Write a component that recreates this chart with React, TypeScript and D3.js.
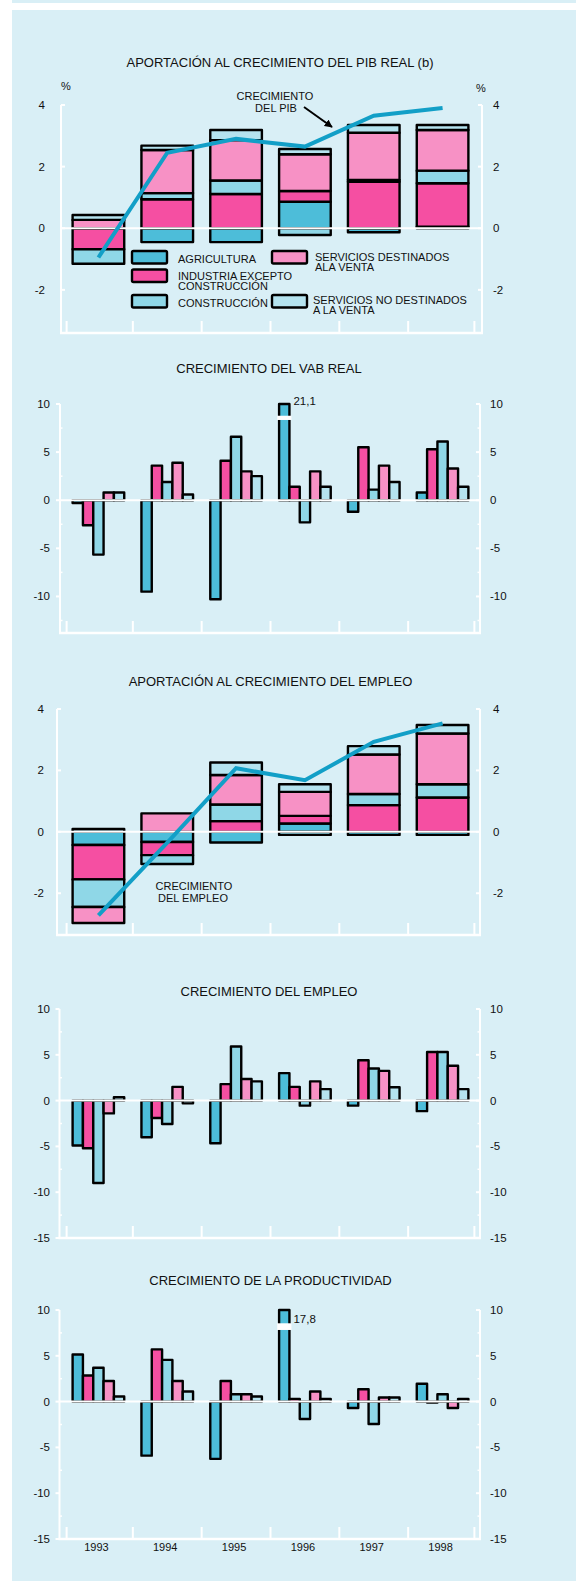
import React from 'react';
import * as d3 from 'd3';

const years = ['1993', '1994', '1995', '1996', '1997', '1998'];
const sectorKeys = ['agri', 'ind', 'cons', 'sd', 'snd'];
const sectorColors = ['#4dbdd9', '#f54fa2', '#8fd7e7', '#f791c5', '#b5e3ef'];
const legendLines = [
  ['AGRICULTURA'],
  ['INDUSTRIA EXCEPTO', 'CONSTRUCCIÓN'],
  ['CONSTRUCCIÓN'],
  ['SERVICIOS DESTINADOS', 'ALA VENTA'],
  ['SERVICIOS NO DESTINADOS', 'A LA VENTA'],
];

// aportación al crecimiento del PIB real (puntos)
const pibAgri = [0, -0.45, -0.45, 0.86, -0.13, 0.05];
const pibInd = [-0.68, 0.94, 1.11, 0.35, 1.51, 1.41];
const pibCons = [-0.47, 0.2, 0.44, -0.22, 0.06, 0.41];
const pibSd = [0.27, 1.4, 1.31, 1.19, 1.53, 1.32];
const pibSnd = [0.16, 0.14, 0.33, 0.17, 0.25, 0.16];
const pibGrowth = [-0.95, 2.45, 2.9, 2.65, 3.65, 3.9];

// crecimiento del VAB real (%)
const vabAgri = [-0.3, -9.5, -10.3, 21.1, -1.2, 0.8];
const vabInd = [-2.6, 3.6, 4.1, 1.4, 5.5, 5.3];
const vabCons = [-5.65, 1.9, 6.6, -2.3, 1.1, 6.1];
const vabSd = [0.8, 3.9, 3.0, 3.0, 3.6, 3.3];
const vabSnd = [0.8, 0.6, 2.5, 1.4, 1.9, 1.4];

// aportación al crecimiento del empleo (puntos)
const empAgri = [-0.43, -0.33, -0.35, 0.27, -0.1, -0.1];
const empInd = [-1.12, -0.43, 0.35, 0.25, 0.87, 1.12];
const empCons = [-0.9, -0.29, 0.54, -0.1, 0.36, 0.43];
const empSd = [-0.52, 0.6, 0.96, 0.78, 1.29, 1.65];
const empSnd = [0.09, 0, 0.41, 0.25, 0.27, 0.28];
const empGrowth = [-2.72, -0.35, 2.07, 1.68, 2.93, 3.53];

// crecimiento del empleo (%)
const ocuAgri = [-4.9, -4.0, -4.65, 3.0, -0.55, -1.15];
const ocuInd = [-5.2, -1.9, 1.8, 1.5, 4.4, 5.3];
const ocuCons = [-9.0, -2.55, 5.9, -0.55, 3.5, 5.3];
const ocuSd = [-1.4, 1.5, 2.35, 2.1, 3.25, 3.8];
const ocuSnd = [0.36, -0.3, 2.1, 1.25, 1.45, 1.25];

// crecimiento de la productividad (%)
const proAgri = [5.15, -5.9, -6.25, 17.8, -0.7, 1.95];
const proInd = [2.85, 5.7, 2.25, 0.3, 1.35, -0.1];
const proCons = [3.7, 4.55, 0.8, -1.9, -2.45, 0.8];
const proSd = [2.25, 2.25, 0.8, 1.1, 0.45, -0.7];
const proSnd = [0.55, 1.1, 0.55, 0.3, 0.45, 0.3];

const ticksSmall = [-2, 0, 2, 4];
const ticksLarge = [-10, -5, 0, 5, 10];
const ticksLargeEmp = [-15, -10, -5, 0, 5, 10];

const FONT = '"Liberation Sans", Arial, Helvetica, sans-serif';
const BG = '#d9eff6';
const LINE = '#129fc7';
const TXT = '#111';
const SW = 2.4;

const makeRows = (cols) =>
  years.map((year, i) => {
    const r = { year };
    sectorKeys.forEach((k, j) => (r[k] = cols[j][i]));
    return r;
  });

const x = d3.scaleBand().domain(years).range([64, 477]).paddingInner(0.25).paddingOuter(0.125);
const xs = d3.scaleBand().domain(sectorKeys).range([0, x.bandwidth()]);

function Frame({ p, children }) {
  const y = p.y;
  const edge = 6;
  const gap = x.step() - x.bandwidth();
  const bounds = [x(years[0]) - edge]
    .concat(years.slice(1).map((yr) => x(yr) - gap / 2))
    .concat([x(years[years.length - 1]) + x.bandwidth() + edge]);
  return (
    <g>
      <text x={p.titleX} y={p.titleY} textAnchor="middle" fontSize={13} fill={TXT}>
        {p.title}
      </text>
      {/* ejes */}
      <line x1={p.left} x2={p.left} y1={y(p.domain[1])} y2={p.bottom + 1} stroke="#fff" strokeWidth={2} />
      <line x1={p.right} x2={p.right} y1={y(p.domain[1])} y2={p.bottom + 1} stroke="#fff" strokeWidth={2} />
      <line x1={p.left - 1} x2={p.right + 1} y1={p.bottom} y2={p.bottom} stroke="#fff" strokeWidth={2.5} />
      {bounds.map((b, i) => (
        <line key={i} x1={b} x2={b} y1={p.bottom} y2={p.bottom - 12} stroke="#fff" strokeWidth={2} />
      ))}
      {p.ticks.map((t) => (
        <g key={t}>
          <line x1={p.left} x2={p.left + p.leftTick} y1={y(t)} y2={y(t)} stroke="#fff" strokeWidth={2} />
          <line x1={p.right} x2={p.right - 4} y1={y(t)} y2={y(t)} stroke="#fff" strokeWidth={2} />
          <text x={p.leftEnd} y={y(t)} dy="0.35em" textAnchor="end" fontSize={11.5} fill={TXT}>
            {t}
          </text>
          <text x={p.rightStart} y={y(t)} dy="0.35em" textAnchor="start" fontSize={11.5} fill={TXT}>
            {t}
          </text>
        </g>
      ))}
      {(p.minor || []).map((t) => (
        <g key={'m' + t}>
          <line x1={p.left} x2={p.left + 2.5} y1={y(t)} y2={y(t)} stroke="#fff" strokeWidth={1.5} />
          <line x1={p.right} x2={p.right - 2.5} y1={y(t)} y2={y(t)} stroke="#fff" strokeWidth={1.5} />
        </g>
      ))}
      {children}
    </g>
  );
}

function ZeroLine({ p }) {
  return <line x1={p.left} x2={p.right} y1={p.y(0)} y2={p.y(0)} stroke="#fff" strokeWidth={2} />;
}

function StackedPanel({ p, cols, growth }) {
  const y = p.y;
  const series = d3.stack().keys(sectorKeys).offset(d3.stackOffsetDiverging)(makeRows(cols));
  const line = d3
    .line()
    .x((d, i) => x(years[i]) + x.bandwidth() / 2)
    .y((d) => y(d));
  return (
    <Frame p={p}>
      {series.map((s, si) =>
        s.map((d, i) =>
          Math.abs(d[1] - d[0]) < 1e-6 ? null : (
            <rect
              key={si + '-' + i}
              x={x(years[i])}
              width={x.bandwidth()}
              y={y(d[1])}
              height={y(d[0]) - y(d[1])}
              fill={sectorColors[si]}
              stroke="#000"
              strokeWidth={SW}
              strokeLinejoin="round"
            />
          )
        )
      )}
      <ZeroLine p={p} />
      <path d={line(growth)} fill="none" stroke={LINE} strokeWidth={4} />
    </Frame>
  );
}

function GroupedPanel({ p, cols, big }) {
  const y = p.y;
  const [lo, hi] = p.domain;
  return (
    <Frame p={p}>
      {cols.map((vals, si) =>
        vals.map((v, i) => {
          const c = Math.max(lo, Math.min(hi, v));
          const y0 = y(Math.max(0, c));
          const y1 = y(Math.min(0, c));
          return (
            <rect
              key={si + '-' + i}
              x={x(years[i]) + xs(sectorKeys[si])}
              width={xs.bandwidth()}
              y={y0}
              height={y1 - y0}
              fill={sectorColors[si]}
              stroke="#000"
              strokeWidth={SW}
              strokeLinejoin="round"
            />
          );
        })
      )}
      {big && (
        <g>
          <rect
            x={x(big.year) + xs(big.key) - 2}
            width={xs.bandwidth() + 4}
            y={y(big.breakHi)}
            height={y(big.breakLo) - y(big.breakHi)}
            fill="#fff"
          />
          <text x={x(big.year) + xs(big.key) + xs.bandwidth() + 4} y={y(big.labelAt)} fontSize={11.5} fill={TXT}>
            {big.text}
          </text>
        </g>
      )}
      <ZeroLine p={p} />
    </Frame>
  );
}

function panel(o) {
  return { ...o, y: d3.scaleLinear().domain(o.domain).range([o.bottom, o.top]) };
}

const p1 = panel({
  title: 'APORTACIÓN AL CRECIMIENTO DEL PIB REAL (b)', titleX: 280, titleY: 66.5,
  domain: [-3.4, 4], top: 105, bottom: 333, left: 61, right: 482,
  ticks: ticksSmall, leftTick: 4, leftEnd: 45, rightStart: 493,
});
const p2 = panel({
  title: 'CRECIMIENTO DEL VAB REAL', titleX: 269, titleY: 373,
  domain: [-13.8, 10], top: 404, bottom: 633, left: 60, right: 480,
  ticks: ticksLarge, minor: [-12.5, -7.5, -2.5, 2.5, 7.5], leftTick: -4, leftEnd: 50, rightStart: 490,
});
const p3 = panel({
  title: 'APORTACIÓN AL CRECIMIENTO DEL EMPLEO', titleX: 270.5, titleY: 686,
  domain: [-3.36, 4], top: 709, bottom: 935, left: 57, right: 480,
  ticks: ticksSmall, leftTick: 4, leftEnd: 44, rightStart: 493,
});
const p4 = panel({
  title: 'CRECIMIENTO DEL EMPLEO', titleX: 269, titleY: 995.5,
  domain: [-15, 10], top: 1009, bottom: 1238, left: 59.5, right: 480,
  ticks: ticksLargeEmp, minor: [-12.5, -7.5, -2.5, 2.5, 7.5], leftTick: -4, leftEnd: 50, rightStart: 490,
});
const p5 = panel({
  title: 'CRECIMIENTO DE LA PRODUCTIVIDAD', titleX: 270.5, titleY: 1285,
  domain: [-15, 10], top: 1310, bottom: 1539, left: 59.5, right: 480,
  ticks: ticksLargeEmp, minor: [-12.5, -7.5, -2.5, 2.5, 7.5], leftTick: -4, leftEnd: 50, rightStart: 490,
});

function Legend() {
  const items = [
    { sx: 132, sy: 251, tx: 178, ty: 263 },
    { sx: 132, sy: 269.5, tx: 178, ty: 280 },
    { sx: 132, sy: 295, tx: 178, ty: 307 },
    { sx: 272, sy: 251, tx: 315, ty: 261 },
    { sx: 272, sy: 295, tx: 313, ty: 304 },
  ];
  return (
    <g>
      {items.map((it, i) => (
        <g key={i}>
          <rect x={it.sx} y={it.sy} width={35} height={12.5} rx={1.5} fill={sectorColors[i]} stroke="#000" strokeWidth={SW} />
          {legendLines[i].map((t, j) => (
            <text key={j} x={it.tx} y={it.ty + j * 10} fontSize={11} fill={TXT}>
              {t}
            </text>
          ))}
        </g>
      ))}
    </g>
  );
}

export default function App() {
  return (
    <div style={{ position: 'absolute', left: 0, top: 0 }}>
      <svg width={576} height={1581} style={{ display: 'block', fontFamily: FONT }}>
        <defs>
          <marker id="arrow" viewBox="0 0 10 10" refX={9} refY={5} markerWidth={4} markerHeight={4} orient="auto">
            <path d="M0,0 L10,5 L0,10 z" fill="#000" />
          </marker>
        </defs>
        <rect x={0} y={0} width={576} height={1581} fill="#fff" />
        <rect x={12} y={0} width={564} height={3} fill={BG} />
        <rect x={12} y={10} width={564} height={1571} fill={BG} />

        <StackedPanel p={p1} cols={[pibAgri, pibInd, pibCons, pibSd, pibSnd]} growth={pibGrowth} />
        <text x={66} y={90} textAnchor="middle" fontSize={11} fill={TXT}>%</text>
        <text x={481} y={92} textAnchor="middle" fontSize={11} fill={TXT}>%</text>
        <text x={275} y={99.5} textAnchor="middle" fontSize={11} fill={TXT}>CRECIMIENTO</text>
        <text x={276} y={111.5} textAnchor="middle" fontSize={11} fill={TXT}>DEL PIB</text>
        <line x1={304} y1={107} x2={332} y2={127} stroke="#000" strokeWidth={2} markerEnd="url(#arrow)" />
        <Legend />

        <GroupedPanel
          p={p2}
          cols={[vabAgri, vabInd, vabCons, vabSd, vabSnd]}
          big={{ year: '1996', key: 'agri', breakLo: 8.34, breakHi: 8.78, labelAt: 9.9, text: '21,1' }}
        />

        <StackedPanel p={p3} cols={[empAgri, empInd, empCons, empSd, empSnd]} growth={empGrowth} />
        <text x={194} y={890} textAnchor="middle" fontSize={11} fill={TXT}>CRECIMIENTO</text>
        <text x={193} y={902} textAnchor="middle" fontSize={11} fill={TXT}>DEL EMPLEO</text>

        <GroupedPanel p={p4} cols={[ocuAgri, ocuInd, ocuCons, ocuSd, ocuSnd]} />

        <GroupedPanel
          p={p5}
          cols={[proAgri, proInd, proCons, proSd, proSnd]}
          big={{ year: '1996', key: 'agri', breakLo: 7.82, breakHi: 8.55, labelAt: 8.55, text: '17,8' }}
        />
        {years.map((yr) => (
          <text key={yr} x={x(yr) + x.bandwidth() / 2 - 2} y={1551} textAnchor="middle" fontSize={11} fill={TXT}>
            {yr}
          </text>
        ))}
      </svg>
    </div>
  );
}
